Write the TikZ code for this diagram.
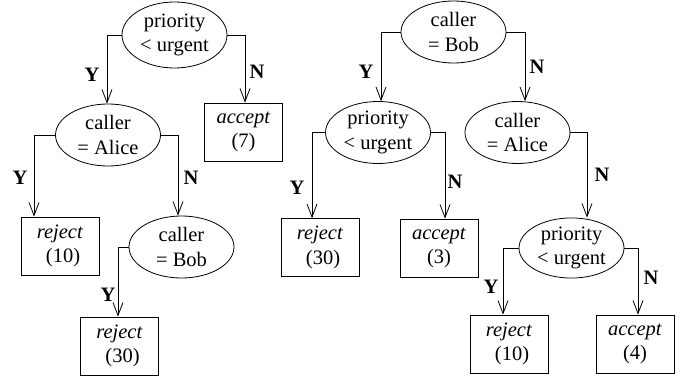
\documentclass[tikz,border=0pt]{standalone}
\usepackage{fontspec}
\setmainfont{Liberation Serif}
\usetikzlibrary{shapes.geometric,arrows.meta}
\begin{document}
\begin{tikzpicture}[x=1pt,y=-1pt,
  every node/.style={font=\fontsize{20.5}{24.5}\selectfont, align=center, inner sep=0pt},
  test/.style={draw, ellipse, line width=0.8pt, minimum width=105pt, minimum height=62pt},
  leaf/.style={draw, rectangle, line width=0.8pt, minimum width=78pt, minimum height=58pt},
  arr/.style={line width=0.8pt, -{Straight Barb[length=13pt,width=10pt,line width=0.8pt]}},
  lbl/.style={font=\fontsize{20.5}{24.5}\selectfont\bfseries}]
\useasboundingbox (0,0) rectangle (688,377);
% left tree
\node[test, minimum height=66pt] (LA) at (174.5,35) {priority\\< urgent};
\node[test] (LB) at (108,135) {caller\\= Alice};
\node[leaf] (LC) at (243.5,132) {\textit{accept}\\(7)};
\node[leaf] (LD) at (60,246) {\textit{reject}\\\hspace*{6pt}(10)};
\node[test] (LE) at (181.5,247) {caller\\= Bob};
\node[leaf] (LF) at (119.5,346) {\textit{reject}\\\hspace*{6pt}(30)};
% right tree
\node[test] (RA) at (453.5,32) {caller\\= Bob};
\node[test] (RB) at (378,132.5) {priority\\< urgent};
\node[test] (RC) at (517.5,132.5) {caller\\= Alice};
\node[leaf] (RD) at (320,247.5) {\textit{reject}\\\hspace*{6pt}(30)};
\node[leaf] (RE) at (439,248) {\textit{accept}\\(3)};
\node[test, minimum height=58pt] (RF) at (571.5,248) {priority\\< urgent};
\node[leaf] (RG) at (509,344) {\textit{reject}\\\hspace*{6pt}(10)};
\node[leaf] (RH) at (635,344) {\textit{accept}\\(4)};
% connectors
\draw[arr] (LA.west) -| ([xshift=-1pt]LB.north);
\draw[arr] (LA.east) -| ([xshift=1.5pt]LC.north);
\draw[arr] (LB.west) -| ([xshift=-26pt]LD.north);
\draw[arr] (LB.east) -| ([xshift=-3.5pt]LE.north);
\draw[arr] (LE.west) -| ([xshift=-1.5pt]LF.north);
\draw[arr] (RA.west) -| ([xshift=3pt]RB.north);
\draw[arr] (RA.east) -| ([xshift=7.5pt]RC.north);
\draw[arr] (RB.west) -| ([xshift=-8pt]RD.north);
\draw[arr] (RB.east) -| ([xshift=6pt]RE.north);
\draw[arr] (RC.east) -| ([xshift=15.5pt]RF.north);
\draw[arr] (RF.west) -| ([xshift=-6pt]RG.north);
\draw[arr] (RF.east) -| ([xshift=3pt]RH.north);
% labels
\node[lbl] (y1) at (92,75) {Y};
\node[lbl] (n1) at (257,72) {N};
\node[lbl] (y2) at (20,178) {Y};
\node[lbl] (n2) at (191,178) {N};
\node[lbl] (y3) at (108,295) {Y};
\node[lbl] (y4) at (366,72) {Y};
\node[lbl] (n4) at (537,67) {N};
\node[lbl] (y5) at (297,188) {Y};
\node[lbl] (n5) at (455,182) {N};
\node[lbl] (n6) at (602,175) {N};
\node[lbl] (y7) at (491,287) {Y};
\node[lbl] (n7) at (651,278) {N};
\end{tikzpicture}
\end{document}
